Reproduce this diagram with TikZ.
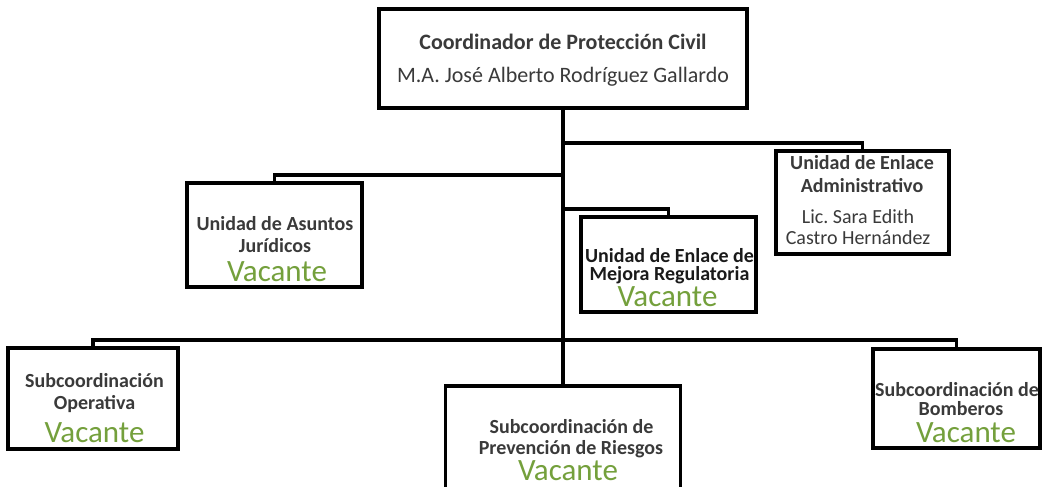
\documentclass[tikz,border=0pt]{standalone}
\usepackage{fontspec}
\setmainfont{Carlito}
\frenchspacing
\definecolor{txt}{HTML}{3A3A3A}
\definecolor{txtdark}{HTML}{1A1A1A}
\definecolor{vac}{HTML}{74A03C}
\begin{document}
\begin{tikzpicture}[x=1pt,y=-1pt,
  box/.style={draw=black, line width=3.4pt, rectangle, inner sep=0pt},
  conn/.style={draw=black, line width=3.2pt},
  trunk/.style={draw=black, line width=4pt},
  tb/.style={anchor=base, inner sep=0pt, text=txt, font=\fontsize{20}{22}\selectfont\bfseries},
  tbd/.style={tb, text=txtdark},
  tr/.style={anchor=base, inner sep=0pt, text=txt, font=\fontsize{20}{22}\selectfont},
  hb/.style={anchor=base, inner sep=0pt, text=txt, font=\fontsize{22}{26}\selectfont\bfseries},
  hr/.style={anchor=base, inner sep=0pt, text=txt, font=\fontsize{22}{26}\selectfont},
  vacl/.style={anchor=base, inner sep=0pt, text=vac, font=\fontsize{31}{34}\selectfont}]
\useasboundingbox (0,0) rectangle (1042,487);
\clip (0,0) rectangle (1042,487);
\fill[white] (0,0) rectangle (1042,487);
% boxes
\node[box, minimum width=368pt, minimum height=99pt] (top) at (563,58.5) {};
\node[box, minimum width=175pt, minimum height=104pt] (jur) at (274.5,235) {};
\node[box, minimum width=173pt, minimum height=103pt] (adm) at (862.5,202.5) {};
\node[box, minimum width=175pt, minimum height=95pt] (mej) at (668.5,264.5) {};
\node[box, minimum width=170pt, minimum height=101pt] (ope) at (93,398.5) {};
\node[box, minimum width=167pt, minimum height=99pt] (bom) at (956.5,398.5) {};
\node[box, minimum width=235pt, minimum height=144pt] (pre) at (563,458) {};
% junctions
\coordinate (jA) at (563,143);
\coordinate (jB) at (563,175);
\coordinate (jC) at (563,209);
\coordinate (jD) at (563,340);
% connectors
\draw[conn] (jA) -| (adm.north);
\draw[conn] (jB) -| (jur.north);
\draw[conn] (jC) -| (mej.north);
\draw[conn] (jD) -| (ope.north);
\draw[conn] (jD) -| (bom.north);
\draw[trunk] (top.south) -- (pre.north);
% texts
\node[hb] (t1) at (563,50) {Coordinador de Protección Civil};
\node[hr] (t2) at (563,83) {M.A. José Alberto Rodríguez Gallardo};
\node[tb] (j1) at (275,230) {Unidad de Asuntos};
\node[tb] (j2) at (275,252) {Jurídicos};
\node[vacl] (j3) at (277,281) {Vacante};
\node[tb] (a1) at (862,169) {Unidad de Enlace};
\node[tb] (a2) at (862,192) {Administrativo};
\node[tr] (a3) at (858,223) {Lic. Sara Edith};
\node[tr] (a4) at (858,244) {Castro Hernández};
\node[tbd] (m1) at (669.5,262) {Unidad de Enlace de};
\node[tbd] (m2) at (669.5,280) {Mejora Regulatoria};
\node[vacl] (m3) at (667.5,306) {Vacante};
\node[tb] (o1) at (94.5,387) {Subcoordinación};
\node[tb] (o2) at (94.5,409) {Operativa};
\node[vacl] (o3) at (94.5,442) {Vacante};
\node[tb] (b1) at (957,396) {Subcoordinación de};
\node[tb] (b2) at (961,415) {Bomberos};
\node[vacl] (b3) at (966,442) {Vacante};
\node[tb] (p1) at (571.5,433) {Subcoordinación de};
\node[tb] (p2) at (571,454) {Prevención de Riesgos};
\node[vacl] (p3) at (568,480) {Vacante};
\end{tikzpicture}
\end{document}
